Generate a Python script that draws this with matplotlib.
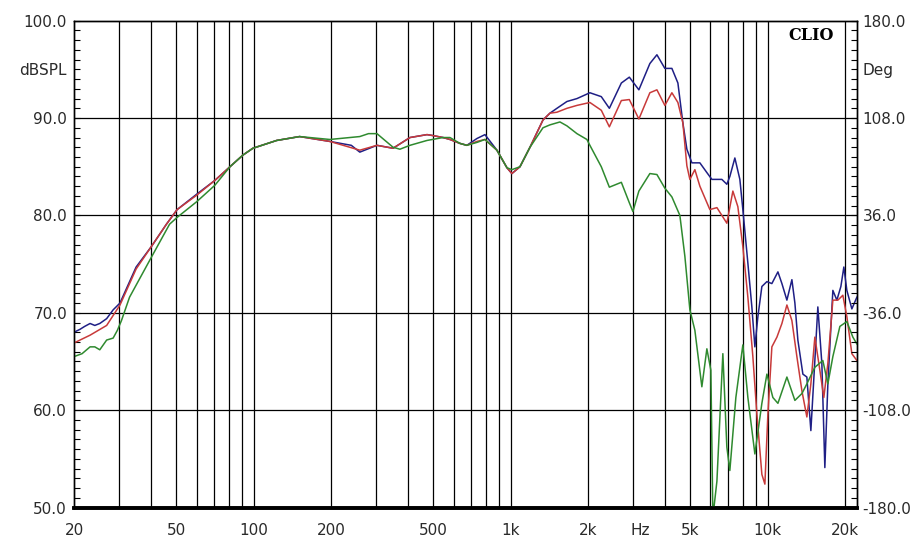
import matplotlib.pyplot as plt
from matplotlib.ticker import FixedLocator, NullFormatter

# blue trace
freq_blue = [20, 21.1, 22, 23.1, 24.1, 25.2, 26.8, 28.4, 30.2, 34.9, 40, 45.8, 50.4, 60.2, 70.7,
             80.9, 90.9, 99.4, 123, 151, 198, 240, 259, 302, 349, 406, 473, 499, 546, 581, 635,
             676, 740, 795, 885, 968, 1012, 1088, 1190, 1337, 1423, 1515, 1657, 1813, 2036, 2255,
             2424, 2699, 2899, 3158, 3485, 3712, 3986, 4245, 4480, 4684, 4855, 5078, 5455, 5808,
             6074, 6643, 6947, 7136, 7464, 7806, 8018, 8387, 8692, 8930, 9174, 9508, 9946, 10399,
             10978, 11378, 11898, 12443, 12782, 13127, 13730, 14229, 14749, 15286, 15701, 16275,
             16718, 17176, 17962, 18619, 19300, 19821, 20363, 21296, 22273]
db_blue = [68.0, 68.3, 68.6, 68.9, 68.7, 68.9, 69.4, 70.3, 71.0, 74.7, 76.8, 79.1, 80.6, 82.2, 83.6,
           85.0, 86.2, 86.9, 87.7, 88.1, 87.6, 87.2, 86.5, 87.2, 86.9, 88.0, 88.3, 88.2, 88.0, 87.8, 87.4,
           87.2, 87.9, 88.3, 86.7, 84.9, 84.3, 85.0, 87.0, 89.8, 90.5, 91.0, 91.7, 92.0, 92.6, 92.2,
           91.0, 93.6, 94.2, 92.9, 95.6, 96.5, 95.1, 95.1, 93.6, 89.5, 86.8, 85.4, 85.4, 84.4,
           83.7, 83.7, 83.2, 84.0, 85.9, 83.7, 80.6, 75.1, 70.6, 66.5, 69.6, 72.7, 73.2, 73.0,
           74.2, 73.0, 71.3, 73.4, 71.0, 67.2, 63.7, 63.4, 57.9, 65.1, 70.6, 64.8,
           54.1, 62.7, 72.3, 71.3, 72.7, 74.7, 72.3, 70.4, 71.6]

# red trace
freq_red = [20, 23.1, 26.8, 30.2, 34.9, 40, 45.8, 50.4, 60.2, 70.7, 80.9, 90.9, 99.4, 123, 151,
            198, 259, 302, 349, 406, 473, 499, 546, 581, 635, 676, 740, 795, 885, 968, 1012, 1088,
            1190, 1337, 1423, 1515, 1657, 1813, 2036, 2255, 2424, 2699, 2899, 3158, 3485, 3712,
            3986, 4245, 4480, 4684, 4855, 4988, 5216, 5455, 5966, 6355, 6947, 7332, 7667, 8018,
            8387, 8770, 9092, 9508, 9769, 10035, 10399, 10881, 11378, 11898, 12443, 13012, 13608,
            14229, 14749, 15286, 15987, 16566, 17176, 17962, 18787, 19646, 20363, 21296, 22273]
db_red = [66.9, 67.7, 68.7, 70.8, 74.5, 76.8, 79.1, 80.6, 82.1, 83.6, 85.0, 86.2, 86.9, 87.7, 88.1,
          87.6, 86.7, 87.2, 86.9, 88.0, 88.3, 88.2, 88.0, 87.8, 87.4, 87.2, 87.6, 87.8, 86.7, 84.9, 84.3, 85.0,
          87.0, 89.8, 90.5, 90.6, 91.0, 91.3, 91.6, 90.8, 89.1, 91.8, 91.9, 89.9, 92.6, 92.9,
          91.3, 92.6, 91.6, 89.5, 85.1, 83.7, 84.7, 83.0, 80.6, 80.8, 79.2, 82.5, 80.9, 76.8,
          71.6, 65.5, 59.6, 53.4, 52.4, 59.6, 66.5, 67.5, 68.9, 70.8, 69.2, 65.5, 62.0,
          59.3, 62.7, 67.5, 64.1, 61.3, 64.8, 71.3, 71.3, 71.8, 69.6, 65.8, 65.1]

# green trace
freq_green = [20, 21.5, 23.1, 24.1, 25.2, 26.8, 28.4, 29.5, 30.6, 32.9, 40, 47.1, 50.4, 60, 70.7,
              80.9, 90.9, 99.4, 123, 151, 198, 259, 280, 302, 349, 371, 406, 473, 546, 581, 635,
              676, 740, 795, 885, 968, 1012, 1088, 1190, 1337, 1423, 1557, 1657, 1813, 1982, 2036,
              2255, 2424, 2699, 2899, 2993, 3158, 3485, 3712, 3986, 4245, 4560, 4769, 4988, 5216,
              5553, 5808, 6020, 6129, 6355, 6703, 6947, 7136, 7531, 8018, 8387, 8930, 9508, 9946,
              10491, 10978, 11898, 12782, 13608, 14229, 15286, 16418, 17176, 17962, 19127, 20363,
              21488, 22273]
db_green = [65.5, 65.8, 66.5, 66.5, 66.2, 67.2, 67.4, 68.2, 69.2, 71.6, 75.7, 79.1, 79.8, 81.4, 83.1,
            85.0, 86.2, 86.9, 87.7, 88.1, 87.8, 88.1, 88.4, 88.4, 87.0, 86.8, 87.2, 87.7, 88.0, 88.0, 87.4,
            87.2, 87.5, 87.8, 86.7, 84.9, 84.7, 85.0, 87.0, 89.0, 89.3, 89.6, 89.2, 88.4, 87.8, 87.2,
            85.0, 82.9, 83.4, 81.3, 80.4, 82.5, 84.3, 84.2, 82.8, 81.9, 80.0, 75.8, 70.3, 68.2,
            62.4, 66.3, 64.1, 49.0, 52.7, 65.8, 56.2, 53.8, 61.3, 66.7, 61.3, 55.5, 60.7, 63.7,
            61.3, 60.7, 63.4, 61.0, 61.7, 62.7, 64.4, 65.1, 62.7, 65.5, 68.6, 69.1,
            67.5, 66.8]

grid_freqs = [30, 40, 50, 60, 70, 80, 90, 100, 200, 300, 400, 500, 600, 700, 800, 900,
              1000, 2000, 3000, 4000, 5000, 6000, 7000, 8000, 9000, 10000, 20000]
x_ticks = [20, 50, 100, 200, 500, 1000, 2000, 3200, 5000, 10000, 20000]
x_labels = ["20", "50", "100", "200", "500", "1k", "2k", "Hz", "5k", "10k", "20k"]
db_ticks = [50, 60, 70, 80, 90, 95, 100]
db_labels = ["50.0", "60.0", "70.0", "80.0", "90.0", "dBSPL", "100.0"]
deg_ticks = [-180, -108, -36, 36, 108, 144, 180]
deg_labels = ["-180.0", "-108.0", "-36.0", "36.0", "108.0", "Deg", "180.0"]

plt.rcParams["font.family"] = ["DejaVu Sans"]

fig = plt.figure(figsize=(9.14, 5.41), dpi=100)
ax = fig.add_axes([74 / 914, 1 - 507.5 / 541, (857 - 74) / 914, (507.5 - 20.7) / 541])

for f in grid_freqs:
    ax.axvline(f, color="black", lw=0.9, zorder=1)
for d in [60, 70, 80, 90]:
    ax.axhline(d, color="black", lw=0.9, zorder=1)

ax.plot(freq_blue, db_blue, color="#1f1f85", lw=1.1, zorder=3)
ax.plot(freq_red, db_red, color="#c83a3a", lw=1.1, zorder=4)
ax.plot(freq_green, db_green, color="#2f8a2f", lw=1.1, zorder=5)

ax.set_xscale("log")
ax.set_xlim(20, 22300)
ax.set_ylim(50, 100)

ax.xaxis.set_major_locator(FixedLocator(x_ticks))
ax.set_xticklabels(x_labels)
ax.xaxis.set_minor_formatter(NullFormatter())
ax.xaxis.set_minor_locator(FixedLocator([]))
ax.tick_params(axis="x", length=0, pad=11, labelsize=11, labelcolor="#2a2a2a")

ax.set_yticks(db_ticks)
ax.set_yticklabels(db_labels)
ax.yaxis.set_minor_locator(FixedLocator([v for v in range(50, 101) if v % 10 != 0]))
ax.tick_params(axis="y", which="both", direction="in", length=4, width=0.8,
               labelsize=11, labelcolor="#2a2a2a", pad=5)

ax2 = ax.twinx()
ax2.set_ylim(-180, 180)
ax2.set_yticks(deg_ticks)
ax2.set_yticklabels(deg_labels)
ax2.yaxis.set_minor_locator(FixedLocator([-180 + 7.2 * i for i in range(51) if i % 10 != 0]))
ax2.tick_params(axis="y", which="both", direction="in", length=4, width=0.8,
                labelsize=11, labelcolor="#2a2a2a", pad=4)

for a in (ax, ax2):
    for s in ["top", "left", "right"]:
        a.spines[s].set_linewidth(1.0)
    a.spines["bottom"].set_linewidth(2.6)

ax.text(14749, 98.5, "CLIO", family=["DejaVu Serif"], fontweight="bold",
        fontsize=11.5, ha="center", va="center", zorder=6)

fig.savefig("out.png", dpi=100, facecolor="white")
